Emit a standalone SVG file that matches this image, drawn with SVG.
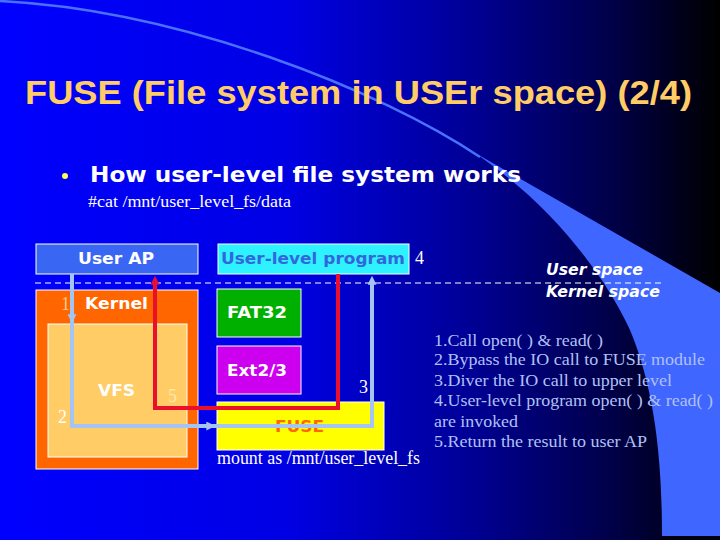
<svg xmlns="http://www.w3.org/2000/svg" width="720" height="540" viewBox="0 0 720 540">
<defs>
<linearGradient id="bg" x1="0" y1="0" x2="1" y2="0">
<stop offset="0" stop-color="#0000ff"/>
<stop offset="0.4" stop-color="#0000e4"/>
<stop offset="0.65" stop-color="#000096"/>
<stop offset="0.85" stop-color="#000048"/>
<stop offset="1" stop-color="#000000"/>
</linearGradient>
<marker id="ab" viewBox="0 0 10 10" refX="3" refY="5" markerWidth="9" markerHeight="9" orient="auto" markerUnits="userSpaceOnUse">
<path d="M0,0 L10,5 L0,10 z" fill="#a4c4f4"/>
</marker>
<marker id="ar" viewBox="0 0 10 10" refX="3" refY="5" markerWidth="9" markerHeight="9" orient="auto" markerUnits="userSpaceOnUse">
<path d="M0,0 L10,5 L0,10 z" fill="#e8102c"/>
</marker>
</defs>
<style>
.box{stroke:#ffffff;stroke-width:1}
.lbl{font-family:"DejaVu Sans","Liberation Sans",sans-serif;font-weight:bold;font-size:16px;fill:#ffffff}
.ser{font-family:"Liberation Serif","Times New Roman",serif;fill:#ffffff}
.list{font-family:"Liberation Serif","Times New Roman",serif;font-size:17px;fill:#b0c0f6}
.blue{fill:none;stroke:#a4c4f4;stroke-width:4}
.red{fill:none;stroke:#e8102c;stroke-width:4}
</style>
<rect width="720" height="540" fill="url(#bg)"/>
<path d="M0,1 C180,10 380,90 480,157" fill="none" stroke="#4a70ff" stroke-width="2.5"/>
<path d="M470,150 L720,293 L720,536 L662,536 C662,460 655,390 630,330 C600,265 540,195 470,150 Z" fill="#3f66ff"/>
<rect x="662" y="536" width="58" height="4" fill="#000010"/>

<g id="title">
<text x="25" y="104" font-family="Liberation Sans, Arial, sans-serif" font-weight="bold" font-size="33" fill="#ffcc66" textLength="667" lengthAdjust="spacingAndGlyphs">FUSE (File system in USEr space) (2/4)</text>
</g>
<g id="heading">
<circle cx="65" cy="176" r="3" fill="#ffff55"/>
<text x="90" y="182" font-family="DejaVu Sans, Liberation Sans, sans-serif" font-weight="bold" font-size="22" fill="#ffffff" textLength="431" lengthAdjust="spacingAndGlyphs">How user-level file system works</text>
<text class="ser" x="88" y="207" font-size="16" textLength="203" lengthAdjust="spacingAndGlyphs">#cat /mnt/user_level_fs/data</text>
</g>

<g id="divider">
<line x1="35" y1="283" x2="663" y2="283" stroke="#ffffff" stroke-width="1.2" stroke-dasharray="6 4"/>
<text x="546" y="275" font-family="DejaVu Sans, Liberation Sans, sans-serif" font-weight="bold" font-style="italic" font-size="15" fill="#ffffff" textLength="97" lengthAdjust="spacingAndGlyphs">User space</text>
<text x="546" y="297" font-family="DejaVu Sans, Liberation Sans, sans-serif" font-weight="bold" font-style="italic" font-size="15" fill="#ffffff" textLength="114" lengthAdjust="spacingAndGlyphs">Kernel space</text>
</g>

<g id="user-ap">
<rect class="box" x="36" y="244" width="162" height="30" fill="#3a66f4"/>
<text class="lbl" x="78" y="264" textLength="76" lengthAdjust="spacingAndGlyphs">User AP</text>
</g>
<g id="user-level-program">
<rect class="box" x="218" y="244" width="191" height="30" fill="#2ef2ff"/>
<text class="lbl" x="221" y="264" style="fill:#3366dd" textLength="184" lengthAdjust="spacingAndGlyphs">User-level program</text>
<text class="ser" x="415" y="264" font-size="18">4</text>
</g>
<g id="kernel">
<rect class="box" x="36" y="290" width="162" height="179" fill="#ff6600"/>
<text class="lbl" x="85" y="309" textLength="63" lengthAdjust="spacingAndGlyphs">Kernel</text>
<text class="ser" x="61" y="310" font-size="18" style="fill:#ffcc88">1</text>
</g>
<g id="vfs">
<rect class="box" x="48" y="324" width="139" height="133" fill="#ffcc66"/>
<text class="lbl" x="98" y="396" textLength="37" lengthAdjust="spacingAndGlyphs">VFS</text>
<text class="ser" x="58" y="423" font-size="18">2</text>
<text class="ser" x="168" y="402" font-size="18" style="fill:#ffe8b0">5</text>
</g>
<g id="fat32">
<rect class="box" x="217" y="289" width="84" height="48" fill="#00b000"/>
<text class="lbl" x="227" y="318" textLength="60" lengthAdjust="spacingAndGlyphs">FAT32</text>
</g>
<g id="ext23">
<rect class="box" x="217" y="346" width="84" height="48" fill="#cc00ee"/>
<text class="lbl" x="227" y="376" textLength="60" lengthAdjust="spacingAndGlyphs">Ext2/3</text>
</g>
<g id="fuse">
<rect class="box" x="217" y="402" width="167" height="48" fill="#ffff00"/>
<text class="lbl" x="275" y="432" style="fill:#ff6600" textLength="49" lengthAdjust="spacingAndGlyphs">FUSE</text>
<text class="ser" x="359" y="393" font-size="18">3</text>
<text class="ser" x="217" y="464" font-size="18" textLength="203" lengthAdjust="spacingAndGlyphs">mount as /mnt/user_level_fs</text>
</g>

<g id="connectors">
<path class="red" d="M338,274 V408 H155 V282" marker-end="url(#ar)"/>
<path class="blue" d="M72,274 V317" marker-end="url(#ab)"/>
<path class="blue" d="M72,317 V426 H209" marker-end="url(#ab)"/>
<path class="blue" d="M209,426 H372 V282" marker-end="url(#ab)"/>
</g>

<g id="steps">
<text class="list" x="434" y="346" textLength="169" lengthAdjust="spacingAndGlyphs">1.Call open( ) &amp; read( )</text>
<text class="list" x="434" y="365" textLength="271" lengthAdjust="spacingAndGlyphs">2.Bypass the IO call to FUSE module</text>
<text class="list" x="434" y="386" textLength="238" lengthAdjust="spacingAndGlyphs">3.Diver the IO call to upper level</text>
<text class="list" x="434" y="406" textLength="279" lengthAdjust="spacingAndGlyphs">4.User-level program open( ) &amp; read( )</text>
<text class="list" x="434" y="427" textLength="84" lengthAdjust="spacingAndGlyphs">are invoked</text>
<text class="list" x="434" y="447" textLength="213" lengthAdjust="spacingAndGlyphs">5.Return the result to user AP</text>
</g>
</svg>
